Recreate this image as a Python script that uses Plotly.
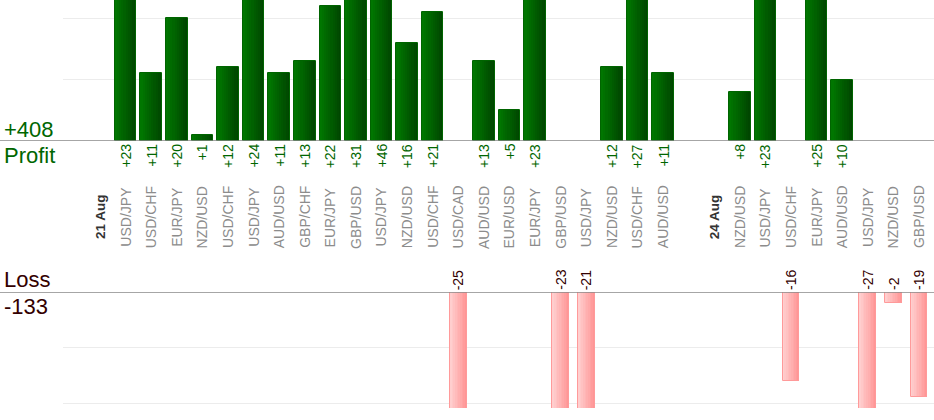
import plotly.graph_objects as go

# slots along the x axis: day markers, a spacer and the traded pairs
labels = ["21 Aug", "USD/JPY", "USD/CHF", "EUR/JPY", "NZD/USD", "USD/CHF", "USD/JPY",
          "AUD/USD", "GBP/CHF", "EUR/JPY", "GBP/USD", "USD/JPY", "NZD/USD", "USD/CHF",
          "USD/CAD", "AUD/USD", "EUR/USD", "EUR/JPY", "GBP/USD", "USD/JPY", "NZD/USD",
          "USD/CHF", "AUD/USD", "", "24 Aug", "NZD/USD", "USD/JPY", "USD/CHF", "EUR/JPY",
          "AUD/USD", "USD/JPY", "NZD/USD", "GBP/USD"]
day_labels = ["21 Aug", "24 Aug"]

# result of each trade in pips (None = no trade in that slot)
pnl = [None, 23, 11, 20, 1, 12, 24, 11, 13, 22, 31, 46, 16, 21, -25, 13, 5, 23, -23, -21,
       12, 27, 11, None, None, 8, 23, -16, 25, 10, -27, -2, -19]

slots = list(range(len(labels)))
profit_x = [i for i, v in zip(slots, pnl) if v is not None and v > 0]
profit_y = [v for v in pnl if v is not None and v > 0]
loss_x = [i for i, v in zip(slots, pnl) if v is not None and v < 0]
loss_y = [v for v in pnl if v is not None and v < 0]

FONT = "Arial, 'Liberation Sans', sans-serif"
GREEN = "#006600"
MAROON = "#330000"

fig = go.Figure()


def gradient_bars(x, y, width, c0, c1, edge, xaxis, yaxis, steps=10):
    # plotly has no gradient fill for bars, so stack narrowing slices
    for k in range(steps):
        t = k / (steps - 1)
        col = "rgb(%d,%d,%d)" % tuple(round(a + (b - a) * t) for a, b in zip(c0, c1))
        off = -width / 2 + k * width / steps
        fig.add_trace(go.Bar(x=x, y=y, width=width / 2 - off, offset=off,
                             marker=dict(color=col, line=dict(width=0)),
                             xaxis=xaxis, yaxis=yaxis, hoverinfo="skip", showlegend=False))
    fig.add_trace(go.Bar(x=x, y=y, width=width, offset=-width / 2,
                         marker=dict(color="rgba(0,0,0,0)", line=dict(color=edge, width=1)),
                         xaxis=xaxis, yaxis=yaxis, showlegend=False))


gradient_bars(profit_x, profit_y, 0.84, (0, 118, 0), (0, 70, 0), "#006400", "x", "y")
gradient_bars(loss_x, loss_y, 0.66, (255, 206, 206), (255, 150, 150), "#ff9a9a", "x2", "y2")

annotations = []
for x, v in zip(profit_x, profit_y):
    annotations.append(dict(x=x, y=0, xref="x", yref="y", text="+%d" % v, textangle=-90,
                            xanchor="center", yanchor="top", yshift=-1, showarrow=False,
                            font=dict(family=FONT, size=14, color=GREEN)))
for x, v in zip(loss_x, loss_y):
    annotations.append(dict(x=x, y=0, xref="x2", yref="y2", text="%d" % v, textangle=-90,
                            xanchor="center", yanchor="bottom", yshift=0, showarrow=False,
                            font=dict(family=FONT, size=14, color=MAROON)))
for x, lab in zip(slots, labels):
    if not lab:
        continue
    is_day = lab in day_labels
    annotations.append(dict(x=x, y=0.468, xref="x", yref="paper",
                            text="<b>%s</b>" % lab if is_day else lab, textangle=-90,
                            xanchor="center", yanchor="middle", showarrow=False,
                            font=dict(family=FONT, size=13.5 if is_day else 14,
                                      color="#333333" if is_day else "#8c8c8c")))

left = -61 / 871
annotations += [
    dict(x=left, y=0, xref="paper", yref="y", text="+%d" % sum(profit_y), xanchor="left",
         yanchor="bottom", yshift=-3, showarrow=False, font=dict(family=FONT, size=22, color=GREEN)),
    dict(x=left, y=0, xref="paper", yref="y", text="Profit", xanchor="left",
         yanchor="top", yshift=0, showarrow=False, font=dict(family=FONT, size=22, color=GREEN)),
    dict(x=left, y=0, xref="paper", yref="y2", text="Loss", xanchor="left",
         yanchor="bottom", yshift=-2, showarrow=False, font=dict(family=FONT, size=22, color=MAROON)),
    dict(x=left, y=0, xref="paper", yref="y2", text="%d" % sum(loss_y), xanchor="left",
         yanchor="top", yshift=0, showarrow=False, font=dict(family=FONT, size=22, color=MAROON)),
]

shapes = [
    dict(type="line", xref="paper", yref="y", x0=-63 / 871, x1=1, y0=0, y1=0,
         line=dict(color="#888888", width=1.5), layer="above"),
    dict(type="line", xref="paper", yref="y2", x0=-63 / 871, x1=1, y0=0, y1=0,
         line=dict(color="#888888", width=1.5), layer="above"),
]

xr = [-1.446, 32.586]
fig.update_layout(
    width=934, height=420,
    margin=dict(l=63, r=0, t=0, b=12),
    paper_bgcolor="white", plot_bgcolor="white",
    barmode="overlay", bargap=0,
    xaxis=dict(domain=[0, 1], range=xr, visible=False, anchor="y"),
    xaxis2=dict(domain=[0, 1], range=xr, visible=False, anchor="y2"),
    yaxis=dict(domain=[0.6544, 1], range=[0, 22.93], dtick=10, showticklabels=False,
               showgrid=True, gridcolor="#ececec", zeroline=False, anchor="x"),
    yaxis2=dict(domain=[0, 0.2843], range=[-20.9, 0], dtick=10, showticklabels=False,
                showgrid=True, gridcolor="#ececec", zeroline=False, anchor="x2"),
    annotations=annotations,
    shapes=shapes,
    showlegend=False,
)

# page margin would push the 934x420 figure off the window
fig.write_html("out.html", config={"displayModeBar": False},
               post_script="document.body.style.margin='0';document.body.style.overflow='hidden';")
